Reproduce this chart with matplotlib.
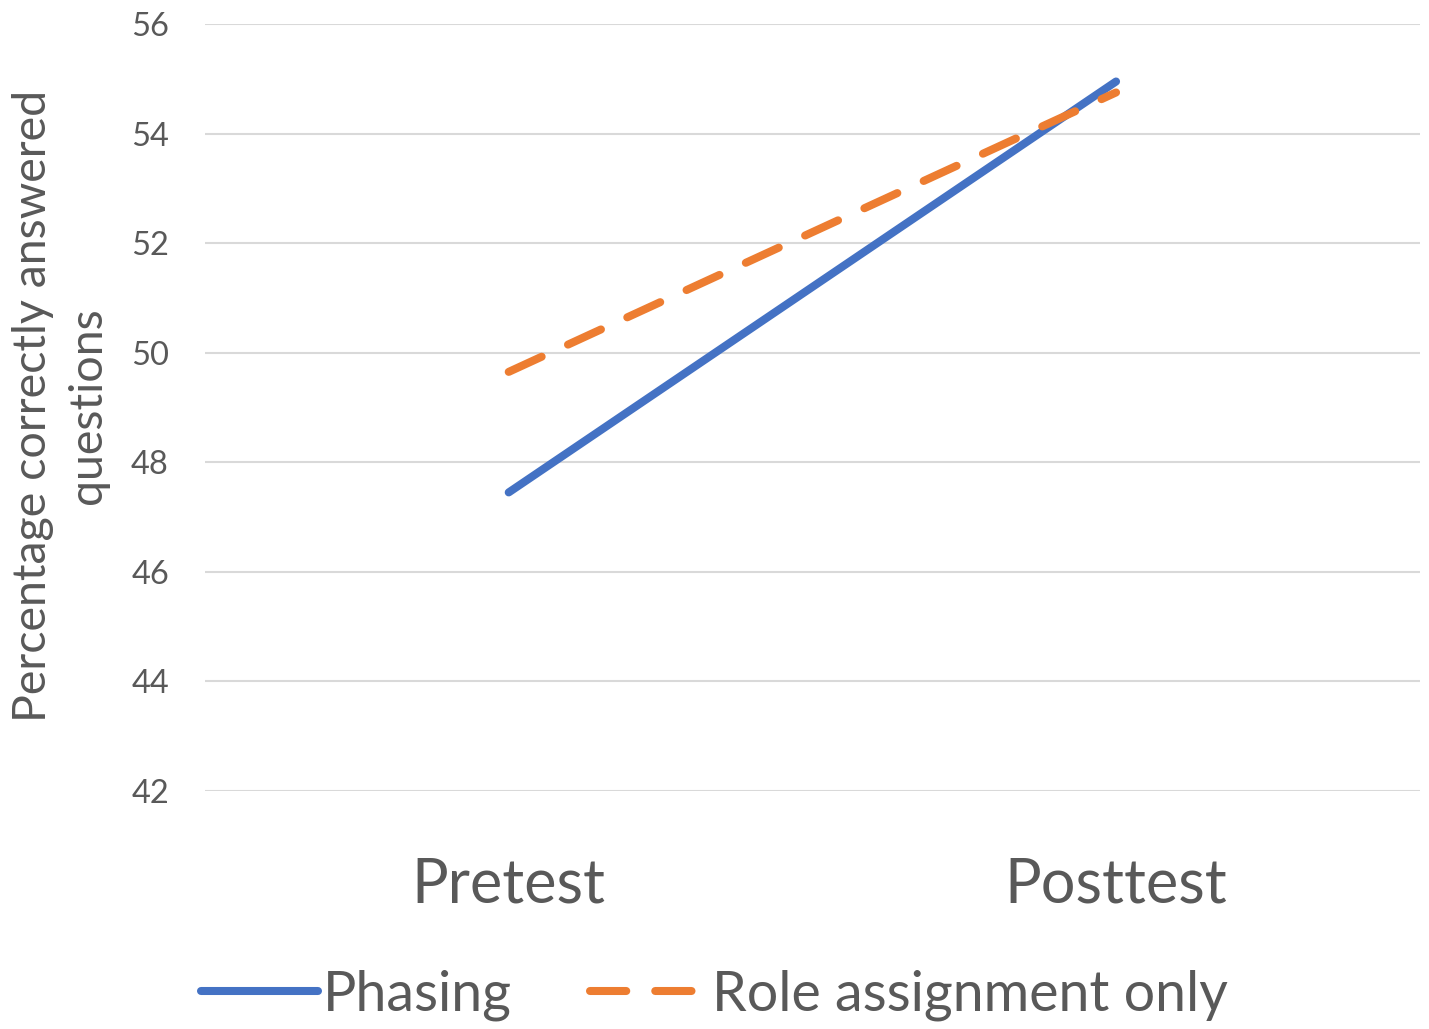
import numpy as np
import matplotlib.pyplot as plt

plt.rcParams['font.family'] = ['Lato', 'DejaVu Sans']

# data
categories = ['Pretest', 'Posttest']
phasing = [47.45, 54.95]
role_only = [49.65, 54.75]
yticks = [42, 44, 46, 48, 50, 52, 54, 56]

grey = '#595959'
blue = '#4472C4'
orange = '#ED7D31'

fig = plt.figure(figsize=(14.29, 10.29), dpi=100)
ax = fig.add_axes([0.1435, 0.2313, 0.850, 0.7454])

x = np.arange(len(categories))
ax.plot(x, phasing, color=blue, lw=5.8, solid_capstyle='round', label='Phasing')
ax.plot(x, role_only, color=orange, lw=5.8, dash_capstyle='round',
        dashes=(4.5, 3.6), label='Role assignment only')

ax.set_xlim(-0.5, 1.5)
ax.set_ylim(42, 56)
ax.set_yticks(yticks)
ax.set_xticks(x)
ax.set_xticklabels(categories, fontsize=44, color=grey)
ax.tick_params(axis='y', labelsize=23.5, labelcolor=grey, length=0, pad=26)
ax.tick_params(axis='x', length=0, pad=47)
ax.grid(axis='y', color='#D9D9D9', lw=1.5)
ax.set_axisbelow(True)
for s in ax.spines.values():
    s.set_visible(False)

fig.text(0.0423, 0.6054, 'Percentage correctly answered\nquestions', rotation=90,
         ha='center', va='center', fontsize=33.5, color=grey, linespacing=1.38,
         multialignment='center')

leg = fig.legend(loc='center', bbox_to_anchor=(0.5, 0.033), ncol=2, frameon=False,
                 fontsize=40, handlelength=2.1, handletextpad=0.1, columnspacing=1.4)
for t in leg.get_texts():
    t.set_color(grey)

fig.savefig('out.png', dpi=100, facecolor='white')
